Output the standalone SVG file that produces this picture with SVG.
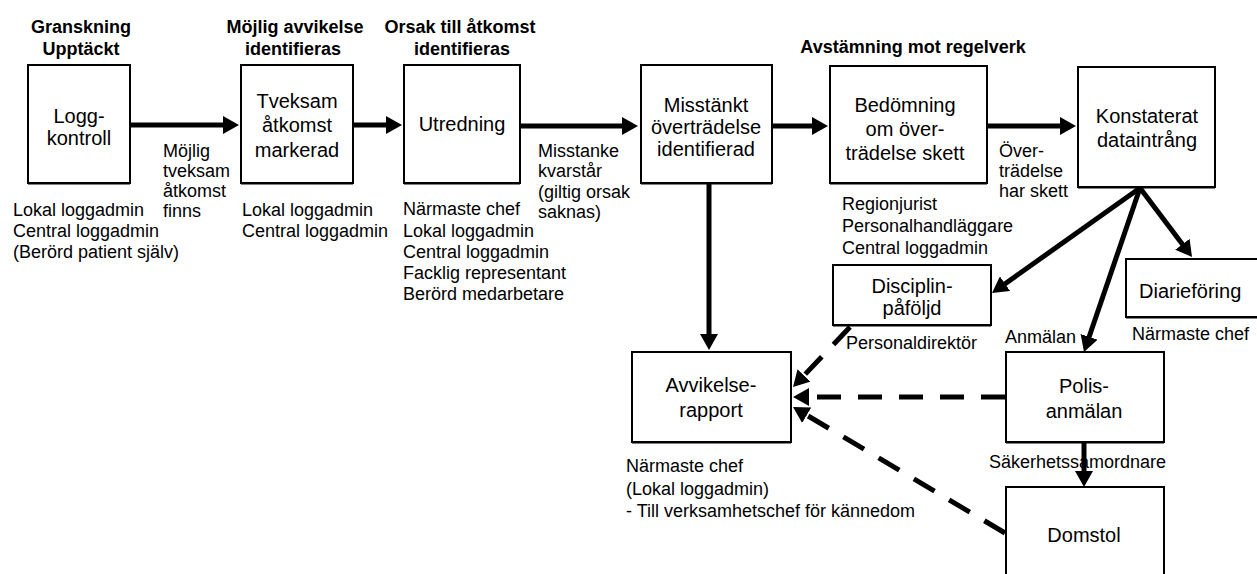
<svg xmlns="http://www.w3.org/2000/svg" width="1257" height="574" viewBox="0 0 1257 574">
<defs>
<style>
text{font-family:"Liberation Sans",Arial,sans-serif;fill:#000}
.t{font-size:18px;font-weight:bold;text-anchor:middle}
.b{font-size:20px;text-anchor:middle}
.l{font-size:18px}
.box{fill:#fff;stroke:#000;stroke-width:2}
.sh{stroke:#000;stroke-width:2;fill:none}
.a{fill:none;stroke:#000;stroke-width:5;marker-end:url(#ah)}
.d{fill:none;stroke:#000;stroke-width:5;stroke-dasharray:24 17;marker-end:url(#ah)}
</style>
<marker id="ah" markerUnits="userSpaceOnUse" markerWidth="18" markerHeight="18" refX="6" refY="9" orient="auto">
<path d="M0,0 L16,9 L0,18 z" fill="#000"/>
</marker>
</defs>
<rect width="1257" height="574" fill="#fff"/>

<g id="headings">
<text class="t" x="81" y="33">Granskning</text>
<text class="t" x="81" y="55">Upptäckt</text>
<text class="t" x="295" y="33">Möjlig avvikelse</text>
<text class="t" x="293" y="55">identifieras</text>
<text class="t" x="460" y="33">Orsak till åtkomst</text>
<text class="t" x="462" y="55">identifieras</text>
<text class="t" x="913" y="53">Avstämning mot regelverk</text>
</g>

<g id="connectors">
<path class="a" d="M130,125 H229"/>
<path class="a" d="M353,125 H392"/>
<path class="a" d="M520,126 H628"/>
<path class="a" d="M772,126 H818"/>
<path class="a" d="M987,126 H1066"/>
<path class="a" d="M709,183 V340"/>
<path class="a" d="M1140,188 L1000.2,287.2"/>
<path class="a" d="M1140,188 L1087.2,342.5"/>
<path class="a" d="M1140,188 L1186,249"/>
<path class="a" d="M1084,442 V477"/>
<path class="d" d="M850,327 L799.9,379.8"/>
<path class="d" d="M1005,397 H803"/>
<path class="d" d="M1005,533 L801.6,412.1"/>
</g>

<g id="loggkontroll">
<rect class="box" x="28" y="65" width="102" height="118"/>
<path class="sh" d="M28,183.5 H130"/>
<text class="b" x="79" y="123">Logg-</text>
<text class="b" x="79" y="145">kontroll</text>
<text class="l" x="13" y="216">Lokal loggadmin</text>
<text class="l" x="13" y="237">Central loggadmin</text>
<text class="l" x="13" y="258">(Berörd patient själv)</text>
</g>

<g id="label-mojlig">
<text class="l" x="163" y="157">Möjlig</text>
<text class="l" x="163" y="177">tveksam</text>
<text class="l" x="163" y="197">åtkomst</text>
<text class="l" x="163" y="217">finns</text>
</g>

<g id="tveksam">
<rect class="box" x="241" y="65" width="112" height="118"/>
<path class="sh" d="M241,183.5 H353"/>
<text class="b" x="297" y="108">Tveksam</text>
<text class="b" x="297" y="132">åtkomst</text>
<text class="b" x="297" y="157">markerad</text>
<text class="l" x="242" y="216">Lokal loggadmin</text>
<text class="l" x="242" y="237">Central loggadmin</text>
</g>

<g id="utredning">
<rect class="box" x="404" y="65" width="116" height="118"/>
<path class="sh" d="M404,183.5 H520"/>
<text class="b" x="462" y="131">Utredning</text>
<text class="l" x="403" y="215">Närmaste chef</text>
<text class="l" x="403" y="237">Lokal loggadmin</text>
<text class="l" x="403" y="258">Central loggadmin</text>
<text class="l" x="403" y="279">Facklig representant</text>
<text class="l" x="403" y="300">Berörd medarbetare</text>
</g>

<g id="label-misstanke">
<text class="l" x="538" y="157">Misstanke</text>
<text class="l" x="538" y="177">kvarstår</text>
<text class="l" x="538" y="198">(giltig orsak</text>
<text class="l" x="538" y="218">saknas)</text>
</g>

<g id="misstankt">
<rect class="box" x="641" y="65" width="131" height="118"/>
<path class="sh" d="M641,183.5 H772"/>
<text class="b" x="706" y="112">Misstänkt</text>
<text class="b" x="706" y="134">överträdelse</text>
<text class="b" x="706" y="156">identifierad</text>
</g>

<g id="bedomning">
<rect class="box" x="830" y="66" width="157" height="117"/>
<path class="sh" d="M830,183.5 H987"/>
<text class="b" x="905" y="112">Bedömning</text>
<text class="b" x="905" y="136">om över-</text>
<text class="b" x="905" y="160">trädelse skett</text>
<text class="l" x="842" y="210">Regionjurist</text>
<text class="l" x="842" y="232">Personalhandläggare</text>
<text class="l" x="842" y="254">Central loggadmin</text>
</g>

<g id="label-overtradelse">
<text class="l" x="999" y="157">Över-</text>
<text class="l" x="999" y="177">trädelse</text>
<text class="l" x="999" y="197">har skett</text>
</g>

<g id="konstaterat">
<rect class="box" x="1078" y="67" width="137" height="120"/>
<path class="sh" d="M1078,187.5 H1215"/>
<text class="b" x="1147" y="123">Konstaterat</text>
<text class="b" x="1147" y="147">dataintrång</text>
</g>

<g id="disciplin">
<rect class="box" x="833" y="265" width="158" height="60"/>
<path class="sh" d="M833,325.5 H991"/>
<text class="b" x="912" y="293">Disciplin-</text>
<text class="b" x="912" y="315">påföljd</text>
<text class="l" x="846" y="349">Personaldirektör</text>
</g>

<g id="diarieforing">
<rect class="box" x="1126" y="259" width="145" height="58"/>
<path class="sh" d="M1126,317.5 H1271"/>
<text class="b" x="1139" y="298" style="text-anchor:start">Diarieföring</text>
<text class="l" x="1132" y="340">Närmaste chef</text>
</g>

<g id="avvikelse">
<rect class="box" x="632" y="352" width="159" height="90"/>
<path class="sh" d="M632,442.5 H791"/>
<text class="b" x="711" y="392">Avvikelse-</text>
<text class="b" x="711" y="417">rapport</text>
<text class="l" x="626" y="472">Närmaste chef</text>
<text class="l" x="626" y="495">(Lokal loggadmin)</text>
<text class="l" x="626" y="517">- Till verksamhetschef för kännedom</text>
</g>

<g id="polis">
<text class="l" x="1005" y="343">Anmälan</text>
<rect class="box" x="1006" y="352" width="158" height="90"/>
<path class="sh" d="M1006,442.5 H1164"/>
<text class="b" x="1084" y="393">Polis-</text>
<text class="b" x="1084" y="418">anmälan</text>
<text class="l" x="989" y="468">Säkerhetssamordnare</text>
</g>

<g id="domstol">
<rect class="box" x="1006" y="487" width="158" height="100"/>
<text class="b" x="1084" y="542">Domstol</text>
</g>
</svg>
